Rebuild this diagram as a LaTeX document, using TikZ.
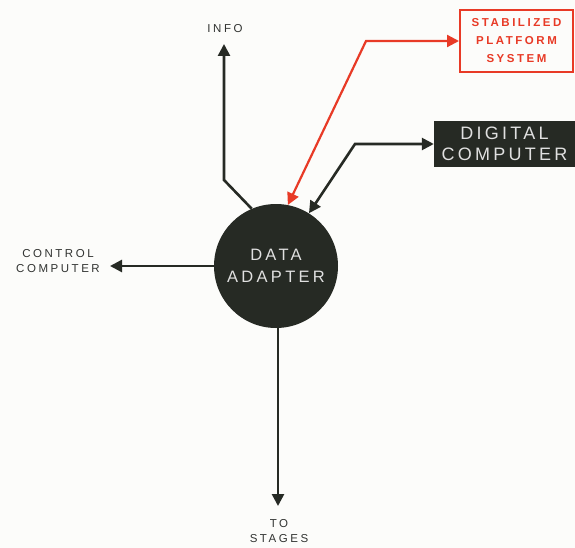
\documentclass[tikz,border=0pt]{standalone}
\usepackage{fontspec}
\setmainfont{Liberation Sans}
\usetikzlibrary{arrows.meta}
\definecolor{ink}{RGB}{38,42,36}
\definecolor{labelgray}{RGB}{50,52,50}
\definecolor{signalred}{RGB}{232,58,38}
\definecolor{paper}{RGB}{252,252,250}
\tikzset{
  tip/.style={-{Triangle[length=12pt,width=12pt]}},
  bothtips/.style={{Triangle[length=12pt,width=12pt]}-{Triangle[length=12pt,width=12pt]}},
  flow/.style={line width=2.6pt, draw=ink},
  redflow/.style={line width=2.2pt, draw=signalred},
  label/.style={text=labelgray, align=center, font=\fontsize{11.5}{15}\selectfont\addfontfeatures{LetterSpace=22}},
  hub/.style={circle, fill=ink, minimum size=124pt, inner sep=0pt, text=white!88!black, align=center,
    font=\fontsize{16.5}{22}\selectfont\addfontfeatures{LetterSpace=20}},
  darkbox/.style={rectangle, fill=ink, minimum width=141pt, minimum height=46pt, inner sep=0pt,
    text=white!88!black, align=center, font=\fontsize{18}{20.5}\selectfont\addfontfeatures{LetterSpace=18}},
  redbox/.style={rectangle, draw=signalred, line width=2pt, minimum width=113pt, minimum height=62pt,
    inner sep=0pt, text=signalred, align=center, font=\fontsize{11.5}{18}\selectfont\bfseries\addfontfeatures{LetterSpace=22}}
}
\begin{document}
\begin{tikzpicture}[x=1pt,y=-1pt]
  \fill[paper] (0,0) rectangle (575,548);
  \useasboundingbox (0,0) rectangle (575,548);

  % blocks
  \node[hub] (adapter) at (276,266) {DATA\\ADAPTER};
  \node[darkbox] (digital) at (504.5,144) {DIGITAL\\COMPUTER};
  \node[redbox] (platform) at (516.5,41) {STABILIZED\\PLATFORM\\SYSTEM};

  % plain labels
  \node[label] (info) at (225,29) {INFO};
  \node[label] (control) at (58,261) {CONTROL\\COMPUTER};
  \node[label] (stages) at (279,531) {TO\\STAGES};

  % bends and free arrow ends
  \coordinate (infobend) at (224,180);
  \coordinate (infotip) at (224,44);
  \coordinate (redbend) at (366,41);
  \coordinate (digbend) at (355,144);
  \coordinate (controltip) at (110,266);
  \coordinate (stagestip) at (278,506);

  % connectors
  \draw[flow, tip] (adapter.113) -- (infobend) -- (infotip);
  \draw[redflow, bothtips] (adapter.79) -- (redbend) -- (platform.west);
  \draw[flow, bothtips] (adapter.58) -- (digbend) -- (digital.west);
  \draw[flow, tip] (adapter.west) -- (controltip);
  \draw[flow, tip] (adapter.south -| stagestip) -- (stagestip);
\end{tikzpicture}
\end{document}
